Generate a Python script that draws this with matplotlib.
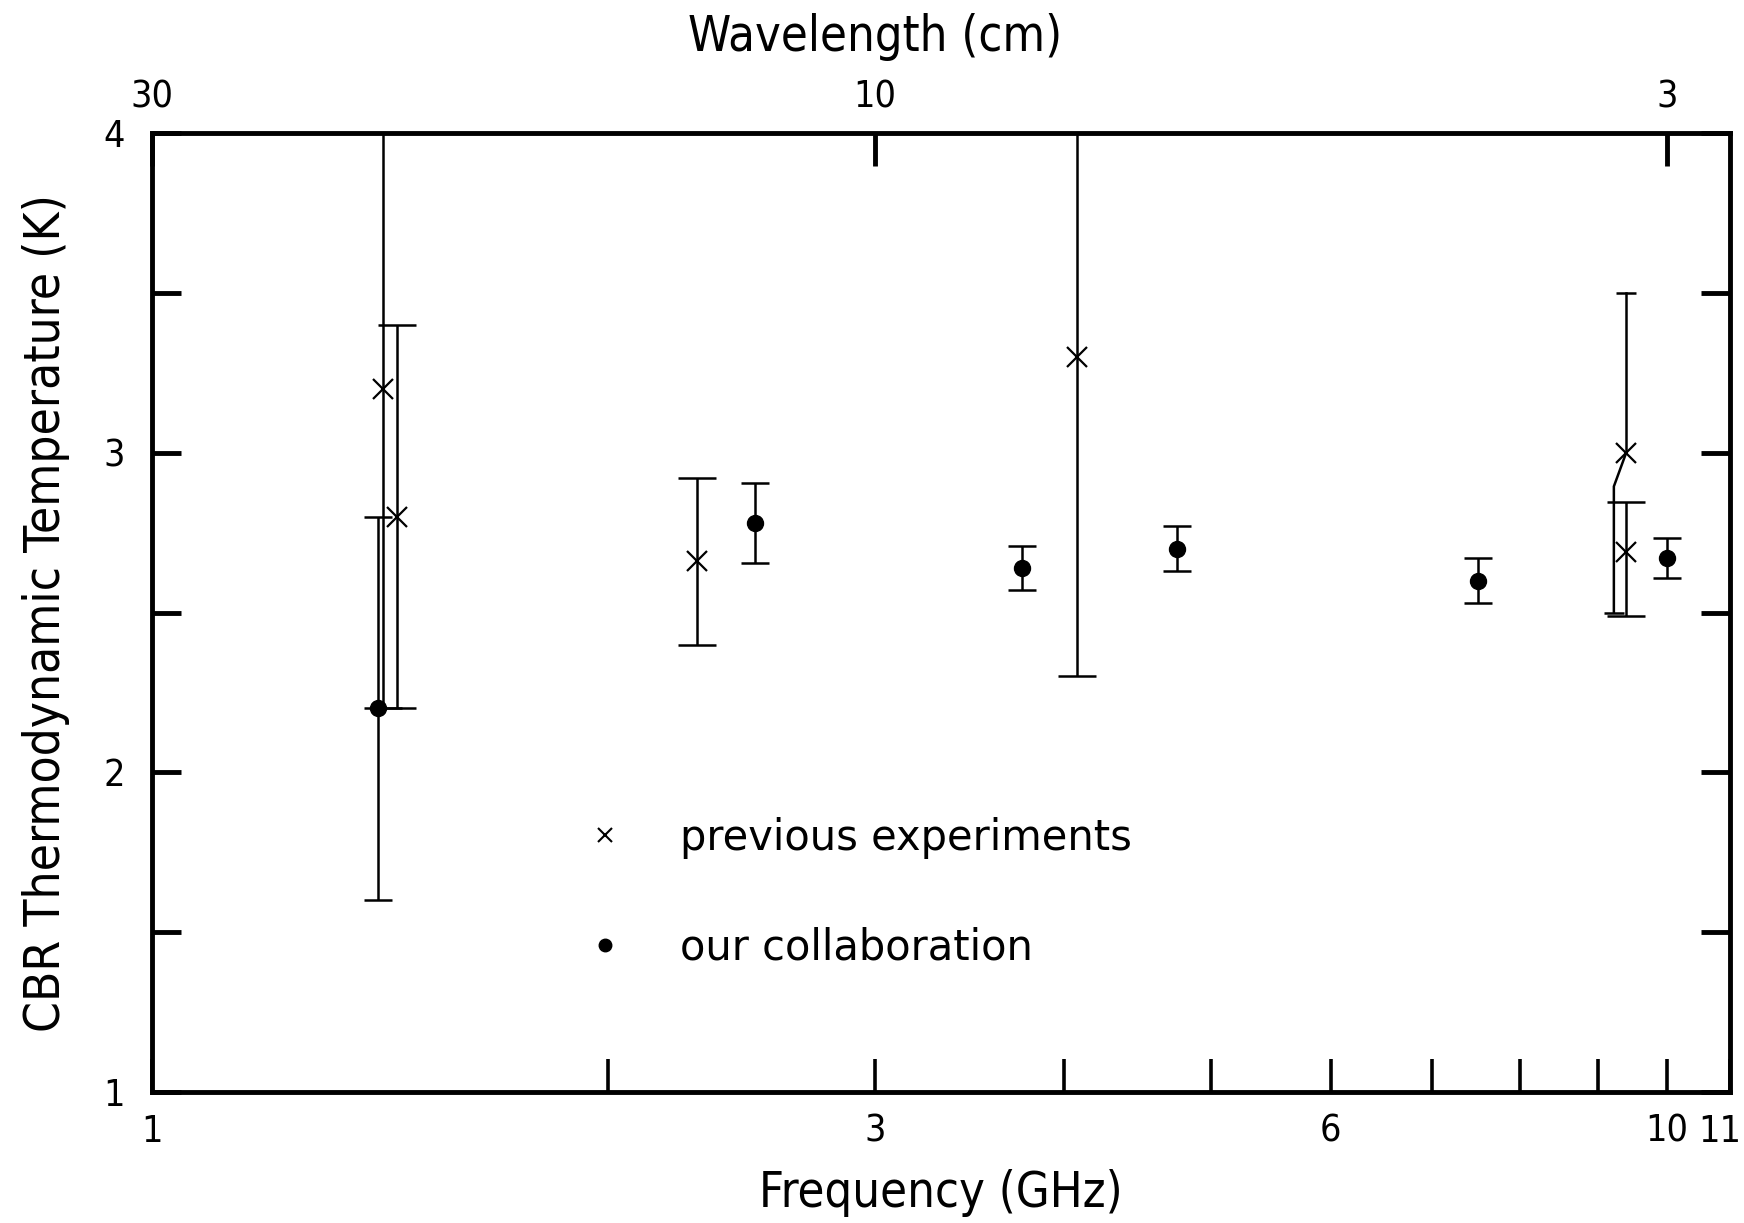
import numpy as np
import matplotlib
matplotlib.use("Agg")
import matplotlib.pyplot as plt
import matplotlib.transforms as mtransforms
from matplotlib.lines import Line2D

# previous experiments (x markers)
prev_freq = [1.42, 1.45, 2.29, 4.08, 9.4, 9.4]
prev_temp = [3.2, 2.8, 2.66, 3.3, 3.0, 2.69]
prev_lo = [1.0, 0.6, 0.26, 1.0, 0.5, 0.2]
prev_hi = [1.0, 0.6, 0.26, 1.0, 0.5, 0.155]
# the 9.4 GHz, 3.0 K bar has its lower half drawn shifted aside
prev_shifted = [False, False, False, False, True, False]

# our collaboration (filled dots)
ours_freq = [1.41, 2.5, 3.75, 4.75, 7.5, 10.0]
ours_temp = [2.2, 2.78, 2.64, 2.70, 2.60, 2.67]
ours_err = [0.6, 0.125, 0.07, 0.07, 0.07, 0.063]

freq_ticks = [1, 2, 3, 4, 5, 6, 7, 8, 9, 10, 11]
freq_labels = ["1", "", "3", "", "", "6", "", "", "", "10", "11"]
wl_ticks = [30, 10, 3]  # cm
temp_ticks = [1, 1.5, 2, 2.5, 3, 3.5, 4]
temp_labels = ["1", "", "2", "", "3", "", "4"]

C_CM_GHZ = 30.0
F_MIN, F_MAX = 1, 11

fig = plt.figure(figsize=(17.44, 12.23), dpi=100)
ax = fig.add_axes([0.0874, 0.1073, 0.9043, 0.7836])

lw = 1.8
for f, t, lo, hi, sh in zip(prev_freq, prev_temp, prev_lo, prev_hi, prev_shifted):
    if not sh:
        ax.errorbar(f, t, yerr=[[lo], [hi]], fmt="none", ecolor="black",
                    elinewidth=lw, capsize=14, capthick=lw)
    else:
        k = 0.9815
        ax.plot([f, f], [t, t + hi], color="black", lw=lw)
        ax.plot(f, t + hi, marker="_", ms=14, mew=lw, color="black")
        ax.plot([f, f * k, f * k], [t, t - 0.105, t - lo], color="black", lw=lw)
        ax.plot(f * k, t - lo, marker="_", ms=14, mew=lw, color="black")
ax.plot(prev_freq, prev_temp, ls="none", marker="x", ms=15, mew=1.6, color="black")

ax.errorbar(ours_freq, ours_temp, yerr=ours_err, fmt="o", ms=11.5, color="black",
            ecolor="black", elinewidth=lw, capsize=10, capthick=lw)

ax.set_xscale("log")
ax.set_xlim(F_MIN, F_MAX)
ax.set_ylim(1, 4)
ax.set_xticks(freq_ticks)
ax.set_xticklabels(freq_labels)
ax.xaxis.set_minor_locator(matplotlib.ticker.NullLocator())
ax.set_yticks(temp_ticks)
ax.set_yticklabels(temp_labels)
ax.tick_params(axis="x", direction="in", length=24, width=2.6, pad=16,
               labelsize=27, top=False)
ax.tick_params(axis="y", direction="in", length=21, width=3.5, pad=20,
               labelsize=27, right=True)
for lab in ax.get_xticklabels() + ax.get_yticklabels():
    lab.set_fontstretch("condensed")
# last label sits at the figure edge; nudge it left a little
last = ax.get_xticklabels()[-1]
last.set_transform(last.get_transform() +
                   mtransforms.ScaledTranslation(-7 / 72, 0, fig.dpi_scale_trans))
for s in ax.spines.values():
    s.set_linewidth(3.5)

ax2 = ax.twiny()
ax2.set_xscale("log")
ax2.set_xlim(ax.get_xlim())
ax2.set_xticks([C_CM_GHZ / w for w in wl_ticks])
ax2.set_xticklabels([str(w) for w in wl_ticks])
ax2.xaxis.set_minor_locator(matplotlib.ticker.NullLocator())
ax2.tick_params(axis="x", direction="in", length=24, width=3.5, pad=13, labelsize=27)
for lab in ax2.get_xticklabels():
    lab.set_fontstretch("condensed")
ax2.set_xlabel("Wavelength (cm)", fontsize=35, fontstretch="condensed")
# the wavelength title sits over the 10 cm tick
ax2.xaxis.set_label_coords(np.log10(C_CM_GHZ / 10 / F_MIN) / np.log10(F_MAX / F_MIN),
                           1.101)
ax2.xaxis.label.set_verticalalignment("center")

ax.set_xlabel("Frequency (GHz)", fontsize=35, fontstretch="condensed", labelpad=14)
ax.set_ylabel("CBR Thermodynamic Temperature (K)", fontsize=35.5,
              fontstretch="condensed", labelpad=24)

handles = [
    Line2D([], [], ls="none", marker="x", ms=10, mew=1.5, color="black"),
    Line2D([], [], ls="none", marker="o", ms=9, color="black"),
]
ax.legend(handles, ["previous experiments", "our collaboration"],
          loc="upper left", bbox_to_anchor=(0.274, 0.287), frameon=False,
          fontsize=30, handlelength=1.0, handletextpad=1.28, labelspacing=1.62,
          borderpad=0, borderaxespad=0)

fig.savefig("out.png", dpi=100)
